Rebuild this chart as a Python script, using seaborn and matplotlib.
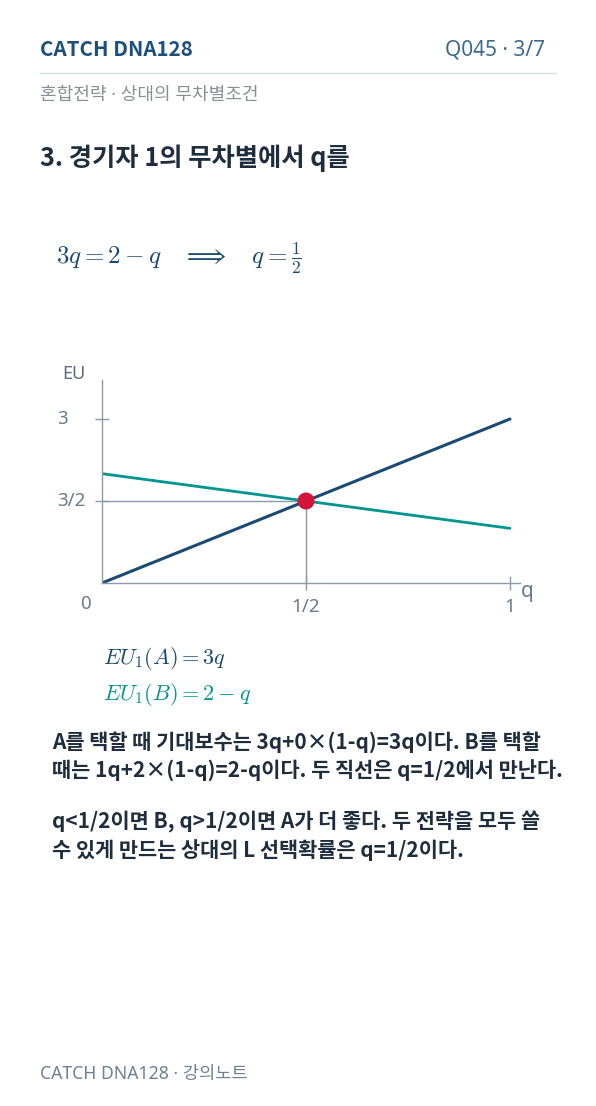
import matplotlib
matplotlib.use("Agg")
import matplotlib.pyplot as plt
import seaborn as sns
import pandas as pd

# data
q_vals = [0, 1]
eu_a = [0, 3]
eu_b = [2, 1]
q_star = [0.5]
eu_star = [1.5]
x_tick_vals = [0.5, 1]
x_tick_labels = ["1/2", "1"]
y_tick_vals = [1.5, 3]
y_tick_labels = ["3/2", "3"]

sns.set_theme(style="white")
plt.rcParams["font.family"] = ["Noto Sans", "Noto Sans CJK KR", "DejaVu Sans"]
plt.rcParams["mathtext.fontset"] = "cm"
bold_fam = ["Noto Sans CJK KR", "DejaVu Sans"]

W, H = 596, 1106
fig = plt.figure(figsize=(W / 100, H / 100), dpi=100)
fig.patch.set_facecolor("white")


def fx(x):
    return x / W


def fy(y):
    return 1 - y / H


navy = "#1b4a72"
teal = "#00958f"
red = "#d2133a"
axis_gray = "#8c9bab"
label_gray = "#6b7a89"
dark = "#1f2d3d"

# header
fig.text(fx(40), fy(50), "CATCH DNA128", fontsize=14.8, fontweight="bold", family=bold_fam,
         color="#1d4f7c", va="center")
fig.text(fx(545), fy(50), "Q045 · 3/7", fontsize=15, color="#3d6a90", va="center", ha="right")
fig.add_artist(plt.Line2D([fx(40), fx(556)], [fy(73), fy(73)], color="#d3dfe9", lw=1))
fig.text(fx(40), fy(95), "혼합전략 · 상대의 무차별조건", fontsize=13, color="#8a8f96", va="center")
fig.text(fx(40), fy(158), "3. 경기자 1의 무차별에서 q를", fontsize=18.2, fontweight="bold", family=bold_fam,
         color=dark, va="center")

fig.text(fx(56), fy(258), r"$3q = 2 - q \quad \Longrightarrow \quad q = \frac{1}{2}$",
         fontsize=18, color=navy, va="center")

# chart
x0, y0 = 102, 583
ax_w, ax_h = 418, 203
ax = fig.add_axes([fx(x0), fy(y0), ax_w / W, ax_h / H])
ax.set_facecolor("white")

df = pd.DataFrame({"q": q_vals, "A": eu_a, "B": eu_b})
sns.lineplot(data=df, x="q", y="B", color=teal, lw=2.0, ax=ax)
sns.lineplot(data=df, x="q", y="A", color=navy, lw=2.2, ax=ax)

ax.plot([0, q_star[0]], [eu_star[0], eu_star[0]], color=axis_gray, lw=1, zorder=1)
ax.plot([q_star[0], q_star[0]], [0, eu_star[0]], color=axis_gray, lw=1, zorder=1)
sns.scatterplot(x=q_star, y=eu_star, color=red, s=150, edgecolor="none", zorder=5, ax=ax)

ax.set_xlim(0, ax_w / 408)
ax.set_ylim(0, ax_h / 164 * 3)
for s in ["top", "right"]:
    ax.spines[s].set_visible(False)
for s in ["left", "bottom"]:
    ax.spines[s].set_color(axis_gray)
    ax.spines[s].set_linewidth(1)

ax.set_xticks(x_tick_vals)
ax.set_xticklabels(x_tick_labels, fontsize=13.5, color=label_gray)
ax.set_yticks(y_tick_vals)
ax.set_yticklabels([])
ax.tick_params(axis="x", bottom=True, direction="inout", length=10, width=1, color=axis_gray, pad=6)
ax.tick_params(axis="y", left=True, direction="inout", length=10, width=1, color=axis_gray)
ax.set_xlabel("")
ax.set_ylabel("")

for v, lab in zip(y_tick_vals, y_tick_labels):
    ax.text((57 - x0) / ax_w, v, lab, transform=ax.get_yaxis_transform(),
            ha="left", va="center", fontsize=13.5, color=label_gray)
ax.text((85 - x0) / ax_w, (y0 - 604) / ax_h, "0", transform=ax.transAxes,
        ha="center", va="center", fontsize=13.5, color=label_gray)
ax.text((527 - x0) / ax_w, (y0 - 591) / ax_h, "q", transform=ax.transAxes,
        ha="center", va="center", fontsize=15, color=label_gray)
ax.text((74 - x0) / ax_w, (y0 - 374) / ax_h, "EU", transform=ax.transAxes,
        ha="center", va="center", fontsize=13, color="#5b6b7c")

# formulas
fig.text(fx(103), fy(658), r"$EU_1(A) = 3q$", fontsize=16, color=navy, va="center")
fig.text(fx(103), fy(695), r"$EU_1(B) = 2 - q$", fontsize=16, color=teal, va="center")

# paragraph
lines = [
    (742, "A를 택할 때 기대보수는 3q+0×(1-q)=3q이다. B를 택할"),
    (771, "때는 1q+2×(1-q)=2-q이다. 두 직선은 q=1/2에서 만난다."),
    (821, "q<1/2이면 B, q>1/2이면 A가 더 좋다. 두 전략을 모두 쓸"),
    (850, "수 있게 만드는 상대의 L 선택확률은 q=1/2이다."),
]
for y, t in lines:
    fig.text(fx(52), fy(y), t, fontsize=15, fontweight="bold", family=bold_fam,
             color=dark, va="center")

fig.text(fx(40), fy(1074), "CATCH DNA128 · 강의노트", fontsize=12.7, color="#6e8096", va="center")

fig.savefig("out.png", dpi=100, facecolor="white")
